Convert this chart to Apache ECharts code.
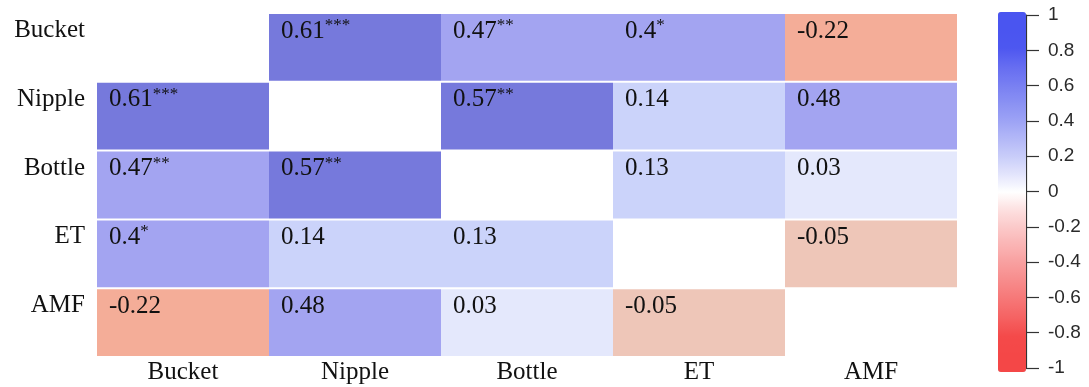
<!DOCTYPE html>
<html>
<head>
<meta charset="utf-8">
<script src="https://cdn.jsdelivr.net/npm/echarts@6/dist/echarts.min.js"></script>
<style>
  html, body { margin: 0; padding: 0; background: #fff; }
  #chart { width: 1089px; height: 387px; }
</style>
</head>
<body>
<div id="chart"></div>
<script>
// Variables compared in the correlation matrix
const categories = ['Bucket', 'Nipple', 'Bottle', 'ET', 'AMF'];

// Correlation coefficients, one row per variable (diagonal left empty)
const rowBucket = [null, 0.61, 0.47, 0.4, -0.22];
const rowNipple = [0.61, null, 0.57, 0.14, 0.48];
const rowBottle = [0.47, 0.57, null, 0.13, 0.03];
const rowET     = [0.4, 0.14, 0.13, null, -0.05];
const rowAMF    = [-0.22, 0.48, 0.03, -0.05, null];

// Significance marks for each coefficient
const starsBucket = ['', '***', '**', '*', ''];
const starsNipple = ['***', '', '**', '', ''];
const starsBottle = ['**', '**', '', '', ''];
const starsET     = ['*', '', '', '', ''];
const starsAMF    = ['', '', '', '', ''];

// Colour-bar tick range
const scaleMin = -1;
const scaleMax = 1;
const scaleStep = 0.2;

const matrix = [rowBucket, rowNipple, rowBottle, rowET, rowAMF];
const stars = [starsBucket, starsNipple, starsBottle, starsET, starsAMF];

const cells = [];
matrix.forEach((row, yi) => {
  row.forEach((v, xi) => {
    if (v !== null) cells.push({ x: xi, y: yi, v: v, star: stars[yi][xi] });
  });
});

const serif = '"Liberation Serif", "Times New Roman", serif';
const sans = '"Liberation Sans", Arial, sans-serif';

const chart = echarts.init(document.getElementById('chart'), null, { renderer: 'canvas' });

chart.setOption({
  backgroundColor: '#ffffff',
  animation: false,
  grid: [
    { left: 97, top: 13, width: 860, height: 344 },
    { left: 998, top: 15, width: 28, height: 353 }
  ],
  xAxis: [
    {
      type: 'category', gridIndex: 0, data: categories,
      axisLine: { show: false }, axisTick: { show: false }, splitLine: { show: false },
      axisLabel: { fontFamily: serif, fontSize: 25, color: '#111', margin: 3 }
    },
    { type: 'value', gridIndex: 1, show: false, min: 0, max: 1 }
  ],
  yAxis: [
    {
      type: 'category', gridIndex: 0, data: categories, inverse: true,
      axisLine: { show: false }, axisTick: { show: false }, splitLine: { show: false },
      axisLabel: {
        fontFamily: serif, fontSize: 25, color: '#111', margin: 12,
        verticalAlign: 'bottom', lineHeight: 34
      }
    },
    {
      type: 'value', gridIndex: 1, position: 'right',
      min: scaleMin, max: scaleMax, interval: scaleStep,
      axisLine: { show: true, onZero: false, lineStyle: { color: '#333', width: 1.2 } },
      axisTick: { show: true, inside: false, length: 13, lineStyle: { color: '#333', width: 1.2 } },
      splitLine: { show: false },
      axisLabel: { fontFamily: sans, fontSize: 19, color: '#2a2a2a', margin: 22 }
    }
  ],
  visualMap: [
    {
      // colour bar legend
      type: 'continuous', show: true, seriesIndex: 1,
      min: scaleMin, max: scaleMax, calculable: false, hoverLink: false,
      orient: 'vertical', left: 998, top: 12, itemWidth: 28, itemHeight: 360, padding: 0,
      inRange: {
        color: ['#f44747', '#f44747', '#f44a4a', '#f56262', '#f67676', '#f78a8a', '#f89e9e',
                '#fab3b3', '#fbc8c8', '#fde0e0', '#ffffff', '#e2e4fc', '#c8ccf9', '#b2b7f7',
                '#9ca2f5', '#8990f3', '#777ef2', '#656cf1', '#4d57f0', '#4a55f0', '#4a55f0']
      }
    },
    {
      // binned fill for the matrix cells
      type: 'piecewise', show: false, seriesIndex: 0, dimension: 2,
      pieces: [
        { gte: 0.55, lte: 1, color: '#7679dc' },
        { gte: 0.35, lt: 0.55, color: '#a3a4f1' },
        { gte: 0.1, lt: 0.35, color: '#cbd3fa' },
        { gte: 0, lt: 0.1, color: '#e4e8fc' },
        { gte: -0.1, lt: 0, color: '#eec6b8' },
        { gte: -0.35, lt: -0.1, color: '#f4ad98' },
        { gte: -1, lt: -0.35, color: '#f08070' }
      ]
    }
  ],
  series: [
    {
      type: 'custom',
      xAxisIndex: 0, yAxisIndex: 0,
      z: 2,
      data: cells.map(c => [c.x, c.y, c.v]),
      renderItem: function (params, api) {
        const c = cells[params.dataIndex];
        const center = api.coord([api.value(0), api.value(1)]);
        const size = api.size([1, 1]);
        const left = center[0] - size[0] / 2;
        const top = center[1] - size[1] / 2;
        const gap = 2;
        const text = '{v|' + String(c.v) + '}' + (c.star ? '{s|' + c.star + '}' : '');
        return {
          type: 'group',
          children: [
            {
              type: 'rect',
              shape: { x: left, y: top + gap / 2, width: size[0], height: size[1] - gap },
              style: { fill: api.visual('color') }
            },
            {
              type: 'text',
              x: left + 12,
              y: top + 18,
              style: {
                text: text,
                verticalAlign: 'middle',
                align: 'left',
                rich: {
                  v: { fontFamily: serif, fontSize: 25, fill: '#111', lineHeight: 28 },
                  s: { fontFamily: serif, fontSize: 17, fill: '#111', verticalAlign: 'top', lineHeight: 28 }
                }
              }
            }
          ]
        };
      }
    },
    {
      type: 'scatter', xAxisIndex: 1, yAxisIndex: 1, data: [], silent: true
    }
  ]
});
</script>
</body>
</html>
